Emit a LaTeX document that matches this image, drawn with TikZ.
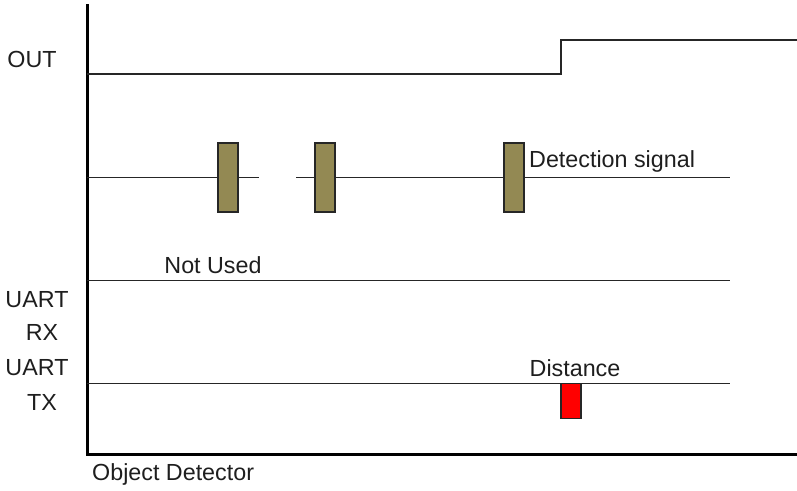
\documentclass[tikz,border=0pt]{standalone}
\usepackage{fontspec}
\setmainfont{Liberation Sans}
\definecolor{olivebox}{RGB}{147,137,83}
\definecolor{textgray}{RGB}{30,30,30}
\begin{document}
\begin{tikzpicture}[x=1pt,y=-1pt,
  sig/.style={line width=1.6pt, black!85},
  axis/.style={line width=3pt, black},
  pulse/.style={draw=black!85, line width=1.4pt, fill=olivebox, minimum width=20pt, minimum height=69pt, inner sep=0pt, outer sep=0pt},
  redpulse/.style={draw=black!85, line width=1.2pt, fill=red, minimum width=20pt, minimum height=35pt, inner sep=0pt, outer sep=0pt},
  lbl/.style={font=\fontsize{23.3}{25}\selectfont, text=textgray, inner sep=0pt, align=center}
]
\useasboundingbox (0,0) rectangle (797,490);
% axes
\coordinate (top) at (87,4);
\coordinate (origin) at (87,454);
\coordinate (xend) at (797,454);
\draw[axis] (top) -- (origin) -- (xend);
% OUT
\coordinate (o1) at (87,74);
\coordinate (o2) at (561,74);
\coordinate (o3) at (561,40);
\coordinate (o4) at (797,40);
\draw[sig] (o1) -- (o2) -- (o3) -- (o4);
\node[lbl] (lout) at (32,59) {OUT};
% detection
\node[pulse] (p1) at (228,177.5) {};
\node[pulse] (p2) at (325,177.5) {};
\node[pulse] (p3) at (514,177.5) {};
\coordinate (d0) at (87,177.5);
\coordinate (d1) at (259,177.5);
\coordinate (d2) at (296,177.5);
\coordinate (d3) at (730,177.5);
\draw[sig] (d0) -- (p1.west);
\draw[sig] (p1.east) -- (d1);
\draw[sig] (d2) -- (p2.west);
\draw[sig] (p2.east) -- (p3.west);
\draw[sig] (p3.east) -- (d3);
\node[lbl, anchor=west] (ldet) at (529,161) {Detection signal};
% not used / RX
\coordinate (n0) at (87,280.5);
\coordinate (n1) at (730,280.5);
\draw[sig] (n0) -- (n1);
\node[lbl] (lnot) at (213,265) {Not Used};
\node[lbl] (lrx1) at (37,300) {UART};
\node[lbl] (lrx2) at (42,332) {RX};
% TX
\coordinate (t0) at (87,383.5);
\coordinate (t1) at (730,383.5);
\draw[sig] (t0) -- (t1);
\node[redpulse, anchor=north] (dist) at (571,383.5) {};
\node[lbl] (ldist) at (575,368) {Distance};
\node[lbl] (ltx1) at (37,368) {UART};
\node[lbl] (ltx2) at (42,402) {TX};
% caption
\node[lbl, anchor=west] (cap) at (92,474) {Object Detector};
\end{tikzpicture}
\end{document}
